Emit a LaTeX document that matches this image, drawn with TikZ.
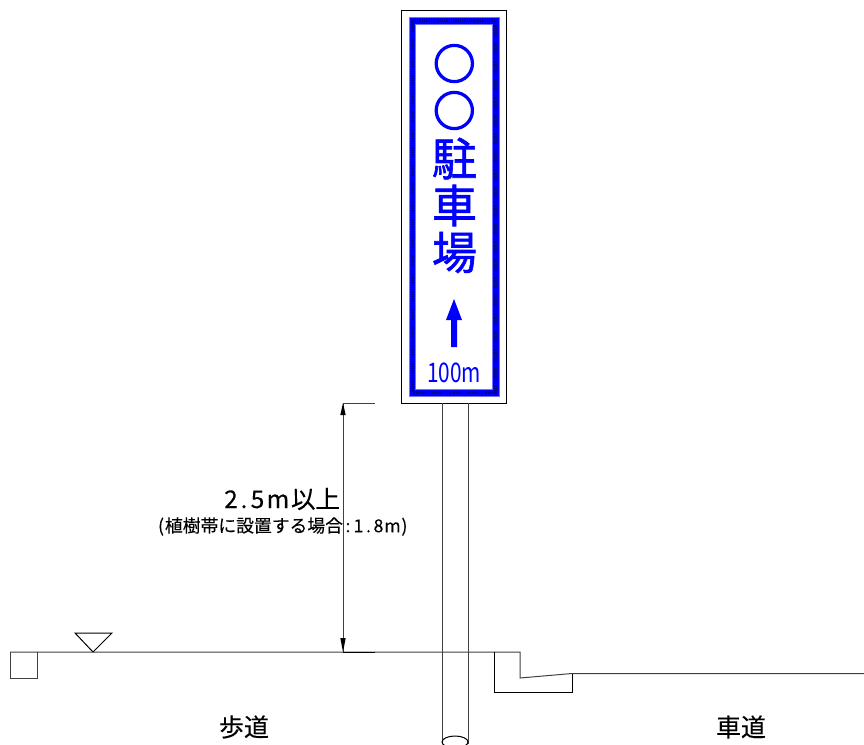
\documentclass[tikz,border=0pt]{standalone}
\usepackage{fontspec}
\setmainfont{Noto Sans CJK JP}
\newfontfamily\signfont[FakeBold=1.4]{Noto Sans CJK JP}
\newfontfamily\ringfont[FakeBold=4]{Noto Sans CJK JP}
\newfontfamily\labfont[FakeBold=0.15]{Noto Sans CJK JP}
\newcommand{\cbox}[2]{\makebox[#1pt][c]{#2}}
\tikzset{
  line/.style={draw=black!75,line width=1pt},
  thin line/.style={draw=black,line width=1pt},
  signchar/.style={text=blue,inner sep=0pt,anchor=center},
  lab/.style={text=black,inner sep=0pt,anchor=center}
}
\begin{document}
\begin{tikzpicture}[x=1pt,y=-1pt]
\useasboundingbox (0,0) rectangle (864,744);
% sign board
\draw[thin line,fill=white] (401.5,10) rectangle (506,403);
% blue border
\draw[draw=blue!55,line width=0.8pt,even odd rule,fill=blue] (409,17) rectangle (499,396) (415,24) rectangle (492,389);
\draw[draw=blue!60!black,line width=3pt,dash pattern=on 0.8pt off 1pt] (412,20.5) rectangle (495.5,392.5);
% sign text
\node[signchar] (c1) at (454.3,63.5) {\ringfont\fontsize{42}{42}\selectfont ○};
\node[signchar] (c2) at (454.3,110.5) {\ringfont\fontsize{42}{42}\selectfont ○};
\node[signchar] (c3) at (454.5,158.5) {\signfont\fontsize{45}{45}\selectfont 駐};
\node[signchar] (c4) at (454.5,205.5) {\signfont\fontsize{45}{45}\selectfont 車};
\node[signchar] (c5) at (454.5,252.5) {\signfont\fontsize{45}{45}\selectfont 場};
\fill[blue] (454,299) -- (462,320) -- (457,320) -- (457,347) -- (451,347) -- (451,320) -- (446,320) -- cycle;
\node[lab,text=blue] (dist) at (454,372.5) {\fontsize{27}{27}\selectfont\scalebox{0.77}[1]{100m}};
% pole
\draw[line] (442,403) -- (442,744);
\draw[line] (468,403) -- (468,744);
\begin{scope}
\clip (430,730) rectangle (480,744);
\draw[thin line] (455,742) ellipse (13 and 6);
\end{scope}
% ground
\draw[line] (10,652) -- (520,652) -- (520,678) -- (572,673.5) -- (864,673.5);
\draw[line] (10,652) -- (10,678) -- (37,678) -- (37,652);
\draw[thin line] (494,652) -- (494,692) -- (572,692) -- (572,673.5);
\draw[thin line] (75,633) -- (112,633) -- (93,652) -- cycle;
% dimension
\coordinate (dimtop) at (343,403);
\coordinate (dimbot) at (343,652);
\draw[line] (dimtop) -- (375,403);
\draw[thin line] (dimbot) -- (375,652);
\draw[line] (dimtop) -- (dimbot);
\fill[black] (dimtop) -- (345.7,415) -- (340.3,415) -- cycle;
\fill[black] (dimbot) -- (345.7,638) -- (340.3,638) -- cycle;
% labels
\node[lab] (h1) at (282,499) {\labfont\fontsize{24.5}{25}\selectfont\cbox{14}{2}\cbox{12}{.}\cbox{15}{5}\cbox{26}{m}以上};
\node[lab] (h2) at (282.5,526.5) {\labfont\fontsize{17.8}{18}\selectfont\cbox{8}{(}植樹帯に設置する場合\cbox{10}{:}\cbox{11}{1}\cbox{9}{.}\cbox{11}{8}\cbox{17}{m}\cbox{7}{)}};
\node[lab] (walk) at (244,727) {\labfont\fontsize{25}{25}\selectfont 歩道};
\node[lab] (road) at (741,727) {\labfont\fontsize{25}{25}\selectfont 車道};
\end{tikzpicture}
\end{document}
